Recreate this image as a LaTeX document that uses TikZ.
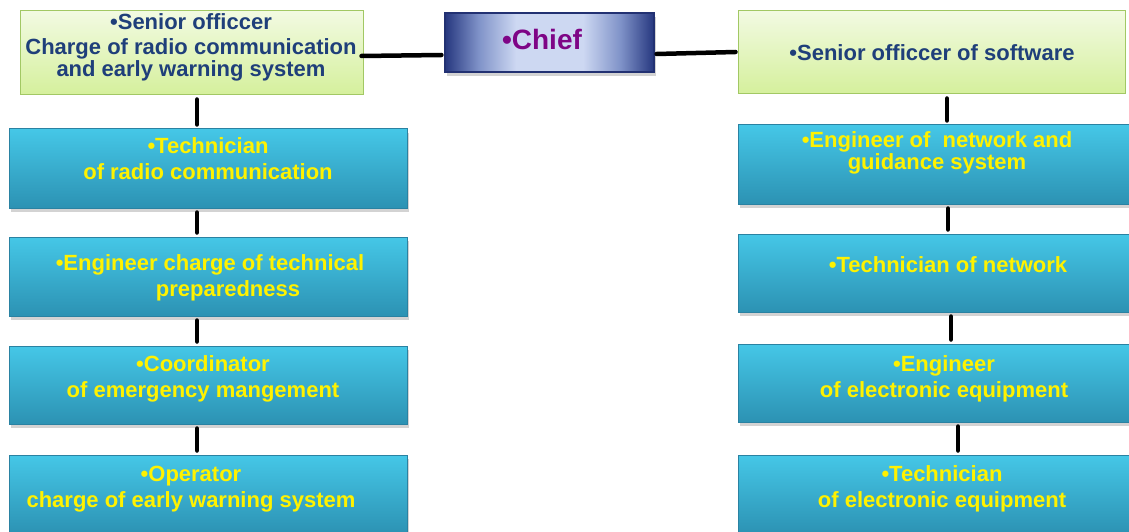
\documentclass[tikz,border=0pt]{standalone}
\usepackage{fontspec}
\setmainfont{Liberation Sans}
\usetikzlibrary{shadows,calc}
\definecolor{navytxt}{HTML}{1F3F7A}
\definecolor{chieftxt}{HTML}{7E0586}
\definecolor{gtop}{HTML}{F2FAE2}
\definecolor{gbot}{HTML}{D5F09C}
\definecolor{gborder}{HTML}{A2C864}
\definecolor{btop}{HTML}{45C7E7}
\definecolor{bbot}{HTML}{2C92B3}
\definecolor{bborder}{HTML}{2A82A2}
\definecolor{cdark}{HTML}{26377F}
\definecolor{cmid}{HTML}{7F92C8}
\definecolor{clight}{HTML}{CDD8F2}
\pgfdeclarehorizontalshading{chiefshade}{100bp}{color(0bp)=(cdark); color(25bp)=(cdark); color(33bp)=(cmid); color(42bp)=(clight); color(58bp)=(clight); color(67bp)=(cmid); color(75bp)=(cdark); color(100bp)=(cdark)}
\begin{document}
\begin{tikzpicture}[x=1pt,y=-1pt,
  greenbox/.style={rectangle,draw=gborder,line width=1pt,top color=gtop,bottom color=gbot,inner sep=0pt},
  bluebox/.style={rectangle,draw=bborder,line width=1pt,top color=btop,bottom color=bbot,inner sep=0pt,
    drop shadow={shadow xshift=2pt,shadow yshift=-4pt,opacity=0.35}},
  chiefbox/.style={rectangle,draw=cdark!90!black,line width=1.2pt,shading=chiefshade,inner sep=0pt,
    drop shadow={shadow xshift=2pt,shadow yshift=-4pt,opacity=0.35}},
  txt/.style={inner sep=0pt,align=center,font=\fontsize{22}{26}\selectfont\bfseries},
  navy/.style={txt,text=navytxt},
  yel/.style={txt,text=yellow},
  conn/.style={line width=4.5pt,line cap=round,draw=black},
  vconn/.style={conn,shorten <=4pt,shorten >=4pt}]
\useasboundingbox (0,0) rectangle (1129,532);
% top row
\node[greenbox,minimum width=343pt,minimum height=84pt] (tl) at (191.5,53) {};
\node[chiefbox,minimum width=209pt,minimum height=59pt] (chief) at (549.5,42.5) {};
\node[greenbox,minimum width=387pt,minimum height=83pt] (tr) at (931.5,52.5) {};
\node[navy] (tlt) at (191,47) {•Senior officcer\\[-1pt]Charge of radio communication\\[-4pt]and early warning system};
\node[txt,text=chieftxt,font=\fontsize{28}{32}\selectfont\bfseries] (chieft) at (542,39) {•Chief};
\node[navy] (trt) at (932,53) {•Senior officcer of software};
% left column
\node[bluebox,minimum width=398pt,minimum height=79pt] (b1) at (208,168.5) {};
\node[bluebox,minimum width=398pt,minimum height=79pt] (b2) at (208,276.5) {};
\node[bluebox,minimum width=398pt,minimum height=78pt] (b3) at (208,385) {};
\node[bluebox,minimum width=398pt,minimum height=79pt] (b4) at (208,494.5) {};
\node[yel] (b1t) at (208,159) {•Technician\\of radio communication};
\node[yel] (b2t) at (210,278) {•Engineer charge of technical\\\hspace*{36pt}preparedness};
\node[yel] (b3t) at (203,379) {•Coordinator\\of emergency mangement};
\node[yel] (b4t) at (191,489) {•Operator\\charge of early warning system};
% right column
\node[bluebox,minimum width=397pt,minimum height=79pt] (r1) at (936.5,164.5) {};
\node[bluebox,minimum width=397pt,minimum height=78pt] (r2) at (936.5,273) {};
\node[bluebox,minimum width=397pt,minimum height=78pt] (r3) at (936.5,383) {};
\node[bluebox,minimum width=397pt,minimum height=79pt] (r4) at (936.5,494.5) {};
\node[yel] (r1t) at (937,153) {•Engineer of \ network and\\[-4pt]guidance system};
\node[yel] (r2t) at (948,265) {•Technician of network};
\node[yel] (r3t) at (944,379) {•Engineer\\of electronic equipment};
\node[yel] (r4t) at (942,489) {•Technician\\of electronic equipment};
% connector columns
\coordinate (cl) at (197,0);
\coordinate (cr0) at (947,0);
\coordinate (cr1) at (948,0);
\coordinate (cr2) at (951,0);
\coordinate (cr3) at (958,0);
% horizontal connectors
\draw[conn] ($(tl.east)+(-2,3)$) -- ($(chief.west)+(-3,12.5)$);
\draw[conn] ($(chief.east)+(2,11.5)$) -- ($(tr.west)+(-2,-0.5)$);
% vertical connectors
\draw[vconn] (tl.south -| cl) -- (b1.north -| cl);
\draw[vconn] (b1.south -| cl) -- (b2.north -| cl);
\draw[vconn] (b2.south -| cl) -- (b3.north -| cl);
\draw[vconn] (b3.south -| cl) -- (b4.north -| cl);
\draw[vconn] (tr.south -| cr0) -- (r1.north -| cr0);
\draw[vconn] (r1.south -| cr1) -- (r2.north -| cr1);
\draw[vconn] (r2.south -| cr2) -- (r3.north -| cr2);
\draw[vconn] (r3.south -| cr3) -- (r4.north -| cr3);
\end{tikzpicture}
\end{document}
